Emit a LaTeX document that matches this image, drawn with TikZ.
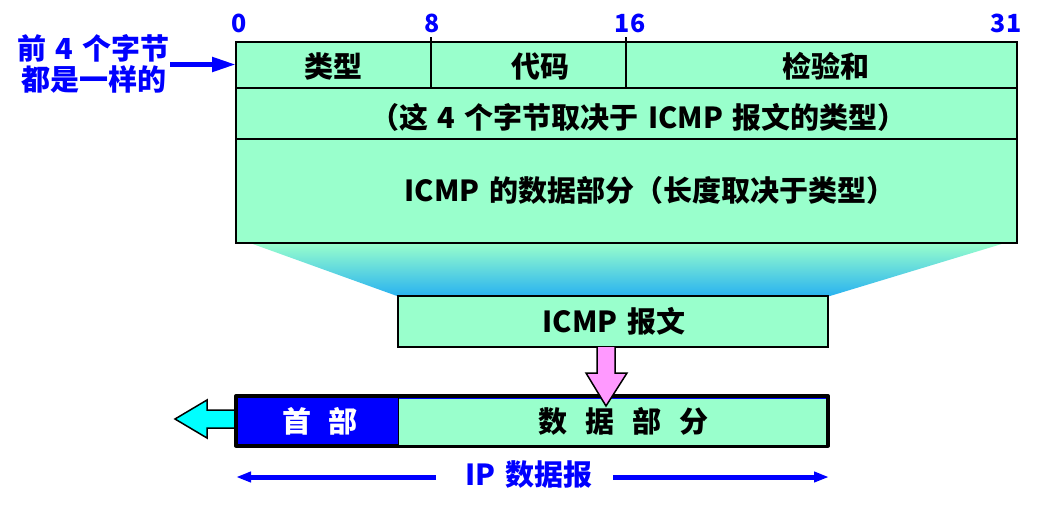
\documentclass[tikz,border=0pt]{standalone}
\usepackage{fontspec}
\setmainfont{Noto Sans CJK SC}
\usetikzlibrary{arrows.meta}
\definecolor{mint}{HTML}{99FFCC}
\definecolor{pureblue}{HTML}{0000FF}
\definecolor{pinkfill}{HTML}{FF99FF}
\definecolor{skyend}{HTML}{29B2F0}
\definecolor{aqua}{HTML}{00FFFF}
\newcommand{\gp}{\hspace{18pt}}
\newcommand{\widesp}{\spaceskip=9.5pt\relax}
\tikzset{
  cell/.style={draw=black,line width=2pt,fill=mint,inner sep=0pt,anchor=north west},
  lbl/.style={inner sep=0pt,font=\fontsize{29}{31}\selectfont\bfseries\widesp},
  bits/.style={inner sep=0pt,text=pureblue,font=\fontsize{25}{25}\selectfont\bfseries},
  bluetext/.style={lbl,text=pureblue,align=center},
  bluearrow/.style={draw=pureblue,line width=5pt},
  block/.style={draw=black,line width=1.5pt,line join=miter}
}
\begin{document}
\begin{tikzpicture}[x=1pt,y=-1pt]
\useasboundingbox (0,0) rectangle (1037,509);
% funnel
\shade[top color=mint,bottom color=skyend] (250,243) -- (1005,243) -- (830,296) -- (397,296) -- cycle;
% top table
\node[cell,minimum width=781pt,minimum height=46pt] (row1) at (235,41) {};
\node[cell,minimum width=781pt,minimum height=51pt] (row2) at (235,87) {};
\node[cell,minimum width=781pt,minimum height=104pt] (row3) at (235,138) {};
\coordinate (tick8) at (431,37);
\coordinate (tick16) at (626,37);
\draw[black,line width=1.5pt] (tick8) -- (tick8 |- row1.south);
\draw[black,line width=1.5pt] (tick16) -- (tick16 |- row1.south);
\node[lbl] (ftype) at (333,66) {类型};
\node[lbl] (fcode) at (540,66) {代码};
\node[lbl] (fsum) at (826,66) {检验和};
\node[lbl] (rowtwo) at (638.5,117) {（这 4 个字节取决于 ICMP 报文的类型）};
\node[lbl] (rowthree) at (650,190) {ICMP 的数据部分（长度取决于类型）};
% bit numbers
\node[bits] (b0) at (239,23) {0};
\node[bits] (b8) at (432,23) {8};
\node[bits] (b16) at (630,23) {16};
\node[bits] (b31) at (1006,23) {31};
% left note
\node[bluetext] (note) at (93.5,64) {前 4 个字节\\都是一样的};
\coordinate (notetip) at (236,64.5);
\coordinate (notetail) at (170,64.5);
\draw[bluearrow,-{Triangle[length=24pt,width=14pt]}] (notetail) -- (notetip);
% icmp box
\node[cell,minimum width=430pt,minimum height=51pt] (icmp) at (397,295) {};
\node[lbl] (icmplabel) at (614,321) {ICMP 报文};
% cyan arrow under datagram
\coordinate (cyanend) at (236,419);
\draw[block,fill=aqua] (cyanend |- 0,410) -- (207,410) -- (207,400) -- (175,419) -- (207,438) -- (207,428) -- (cyanend |- 0,428);
% datagram
\node[draw=none,fill=mint,inner sep=0pt,minimum width=431pt,minimum height=47pt,anchor=north west] (data) at (398,398) {};
\node[draw=none,fill=pureblue,inner sep=0pt,minimum width=160pt,minimum height=47pt,anchor=north west] (head) at (238,398) {};
\draw[pureblue,line width=1.5pt] (head.north east) -- (data.north east);
\draw[black,line width=4pt,line join=round] (236,396) rectangle (828,445.5);
\draw[black,line width=1.5pt] (head.north east) -- (head.south east);
\fill[mint] (399,444) rectangle (826,445.2);
\node[lbl,text=white] (headlabel) at (320,421) {首\hspace{17pt}部};
\node[lbl] (datalabel) at (623.5,421) {数\gp 据\gp 部\gp 分};
% pink arrow
\draw[block,fill=pinkfill] (597,347) -- (597,373) -- (586,373) -- (606,406) -- (627,373) -- (615,373) -- (615,347);
% ip
\node[bluetext] (iplabel) at (529,475) {IP 数据报};
\coordinate (ipleft) at (236,477);
\coordinate (ipright) at (829,477);
\coordinate (ipgapl) at (436,477);
\coordinate (ipgapr) at (613,477);
\draw[bluearrow,-{Triangle[length=15pt,width=10pt]}] (ipgapl) -- (ipleft);
\draw[bluearrow,-{Triangle[length=15pt,width=10pt]}] (ipgapr) -- (ipright);
\end{tikzpicture}
\end{document}
